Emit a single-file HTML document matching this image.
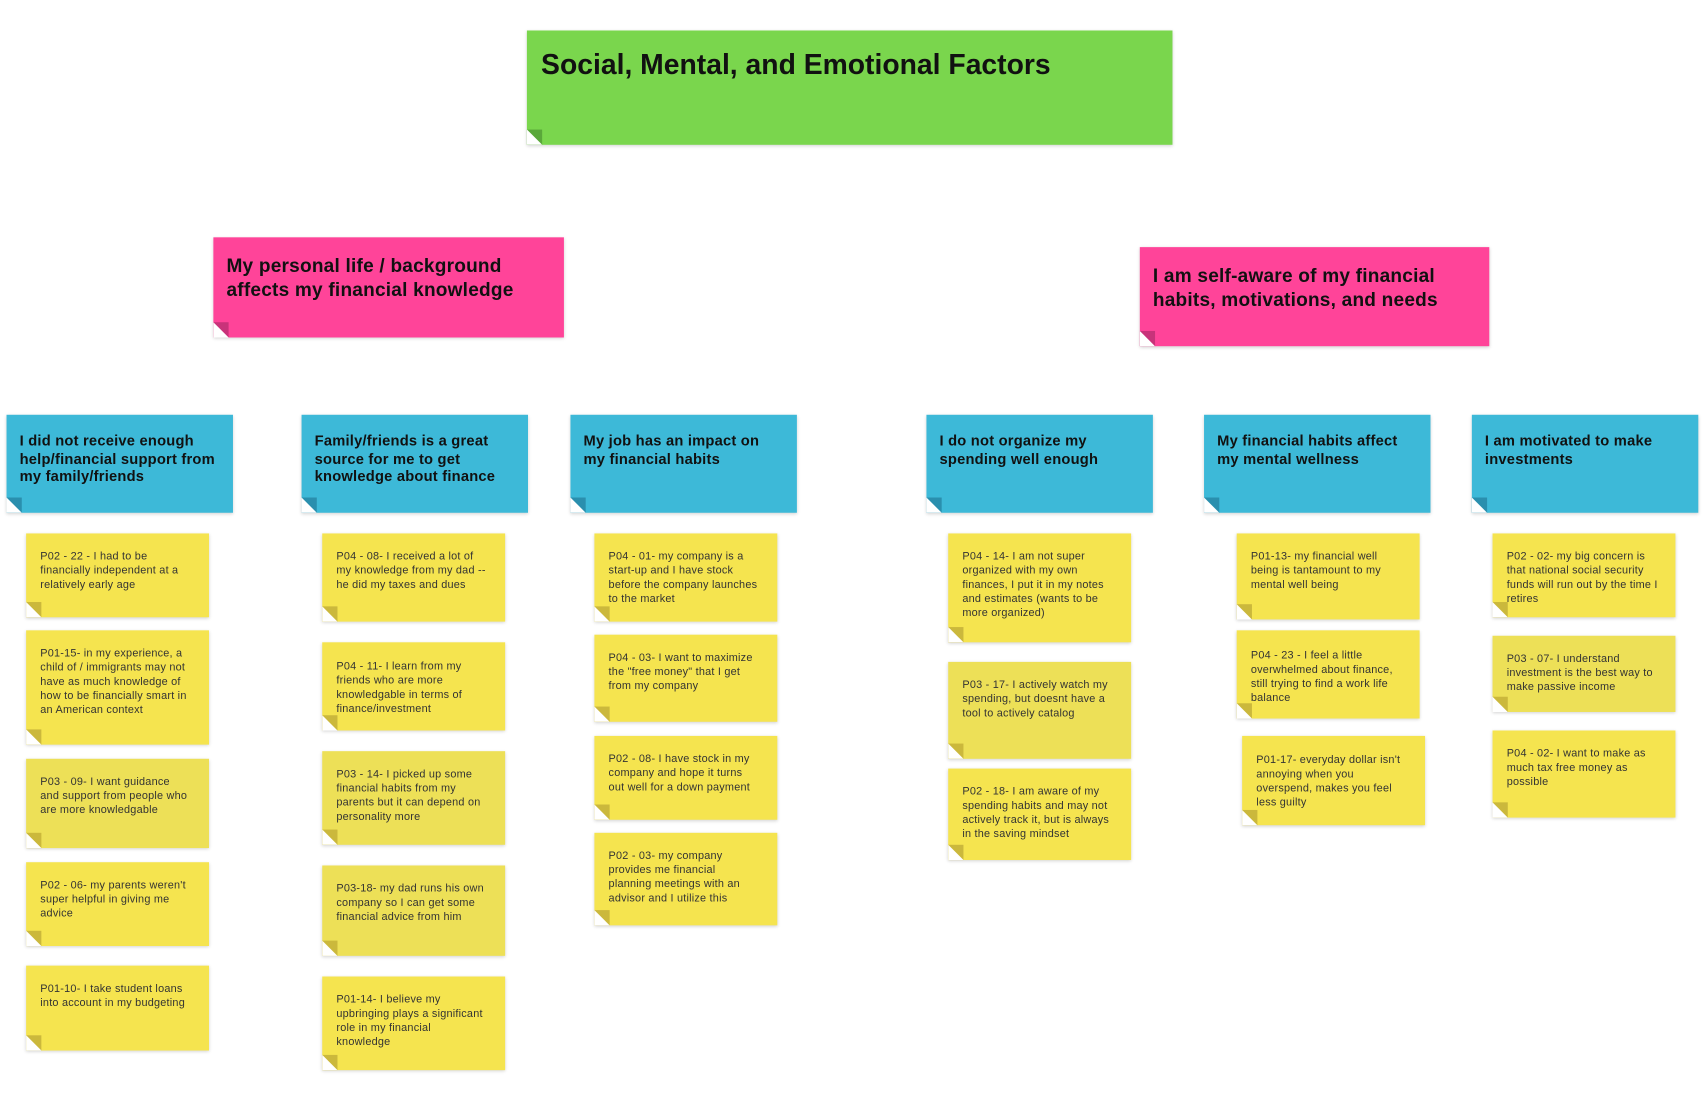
<!DOCTYPE html>
<html><head><meta charset="utf-8"><style>
html,body{margin:0;padding:0;background:#fff;width:1707px;height:1116px;overflow:hidden}
#w{position:absolute;left:0;top:0;width:1568px;height:1025px;transform:scale(1.08865);transform-origin:0 0;font-family:"Liberation Sans",sans-serif;color:#111}
.n{position:absolute;box-sizing:border-box;box-shadow:0 1px 3px rgba(0,0,0,.18)}
.n:after{content:"";position:absolute;left:0;bottom:0;width:0;height:0;border-style:solid;border-width:14px 0 0 14px;border-left-color:#fff}
.g{background:#7ad64d;font-weight:bold;font-size:26px;padding:16px 13px}
.g:after{border-top-color:#5aa83a}
.p{background:#ff4499;font-weight:bold;font-size:17.5px;line-height:22px;padding:15px 12px;letter-spacing:.2px}
.p:after{border-top-color:#c8337a}
.b{background:#3db9d8;font-weight:bold;font-size:13.5px;line-height:16.5px;padding:16px 12px;width:208px;height:90px;top:381px;letter-spacing:.2px}
.b:after{border-top-color:#2a8fae}
.y{background:#f5e44f;font-size:10px;line-height:13px;padding:15px 16px 0 13px;width:168px;color:#333;letter-spacing:.2px}
.y.d{background:#ede057}
.y:after{border-top-color:#cbb83c}
</style></head><body><div id="w">
<div class="n g" style="left:484px;top:28px;width:593px;height:105px">Social, Mental, and Emotional Factors</div>
<div class="n p" style="left:196px;top:218px;width:322px;height:92px">My personal life / background affects my financial knowledge</div>
<div class="n p" style="left:1047px;top:227px;width:321px;height:91px">I am self-aware of my financial habits, motivations, and needs</div>

<div class="n b" style="left:6px">I did not receive enough help/financial support from my family/friends</div>
<div class="n b" style="left:277px">Family/friends is a great source for me to get knowledge about finance</div>
<div class="n b" style="left:524px">My job has an impact on my financial habits</div>
<div class="n b" style="left:851px">I do not organize my spending well enough</div>
<div class="n b" style="left:1106px">My financial habits affect my mental wellness</div>
<div class="n b" style="left:1352px">I am motivated to make investments</div>

<div class="n y" style="left:24px;top:490px;height:77px">P02 - 22 - I had to be financially independent at a relatively early age</div>
<div class="n y" style="left:24px;top:579px;height:105px">P01-15- in my experience, a child of / immigrants may not have as much knowledge of how to be financially smart in an American context</div>
<div class="n y d" style="left:24px;top:697px;height:82px">P03 - 09- I want guidance and support from people who are more knowledgable</div>
<div class="n y" style="left:24px;top:792px;height:77px">P02 - 06- my parents weren't super helpful in giving me advice</div>
<div class="n y" style="left:24px;top:887px;height:78px">P01-10- I take student loans into account in my budgeting</div>

<div class="n y" style="left:296px;top:490px;height:81px">P04 - 08- I received a lot of my knowledge from my dad -- he did my taxes and dues</div>
<div class="n y" style="left:296px;top:590px;height:81px;padding-top:16px">P04 - 11- I learn from my friends who are more knowledgable in terms of finance/investment</div>
<div class="n y d" style="left:296px;top:690px;height:86px">P03 - 14- I picked up some financial habits from my parents but it can depend on personality more</div>
<div class="n y d" style="left:296px;top:795px;height:83px">P03-18- my dad runs his own company so I can get some financial advice from him</div>
<div class="n y" style="left:296px;top:897px;height:86px">P01-14- I believe my upbringing plays a significant role in my financial knowledge</div>

<div class="n y" style="left:546px;top:490px;height:81px">P04 - 01- my company is a start-up and I have stock before the company launches to the market</div>
<div class="n y" style="left:546px;top:583px;height:80px">P04 - 03- I want to maximize the "free money" that I get from my company</div>
<div class="n y" style="left:546px;top:676px;height:77px">P02 - 08- I have stock in my company and hope it turns out well for a down payment</div>
<div class="n y" style="left:546px;top:765px;height:85px">P02 - 03- my company provides me financial planning meetings with an advisor and I utilize this</div>

<div class="n y" style="left:871px;top:490px;height:100px">P04 - 14- I am not super organized with my own finances, I put it in my notes and estimates (wants to be more organized)</div>
<div class="n y d" style="left:871px;top:608px;height:89px">P03 - 17- I actively watch my spending, but doesnt have a tool to actively catalog</div>
<div class="n y" style="left:871px;top:706px;height:84px">P02 - 18- I am aware of my spending habits and may not actively track it, but is always in the saving mindset</div>

<div class="n y" style="left:1136px;top:490px;height:79px">P01-13- my financial well being is tantamount to my mental well being</div>
<div class="n y" style="left:1136px;top:579px;height:81px;padding-top:17px">P04 - 23 - I feel a little overwhelmed about finance, still trying to find a work life balance</div>
<div class="n y" style="left:1141px;top:676px;height:82px;padding-top:16px">P01-17- everyday dollar isn't annoying when you overspend, makes you feel less guilty</div>

<div class="n y" style="left:1371px;top:490px;height:77px">P02 - 02- my big concern is that national social security funds will run out by the time I retires</div>
<div class="n y d" style="left:1371px;top:584px;height:70px;padding-top:15px">P03 - 07- I understand investment is the best way to make passive income</div>
<div class="n y" style="left:1371px;top:671px;height:80px">P04 - 02- I want to make as much tax free money as possible</div>
</div></body></html>
